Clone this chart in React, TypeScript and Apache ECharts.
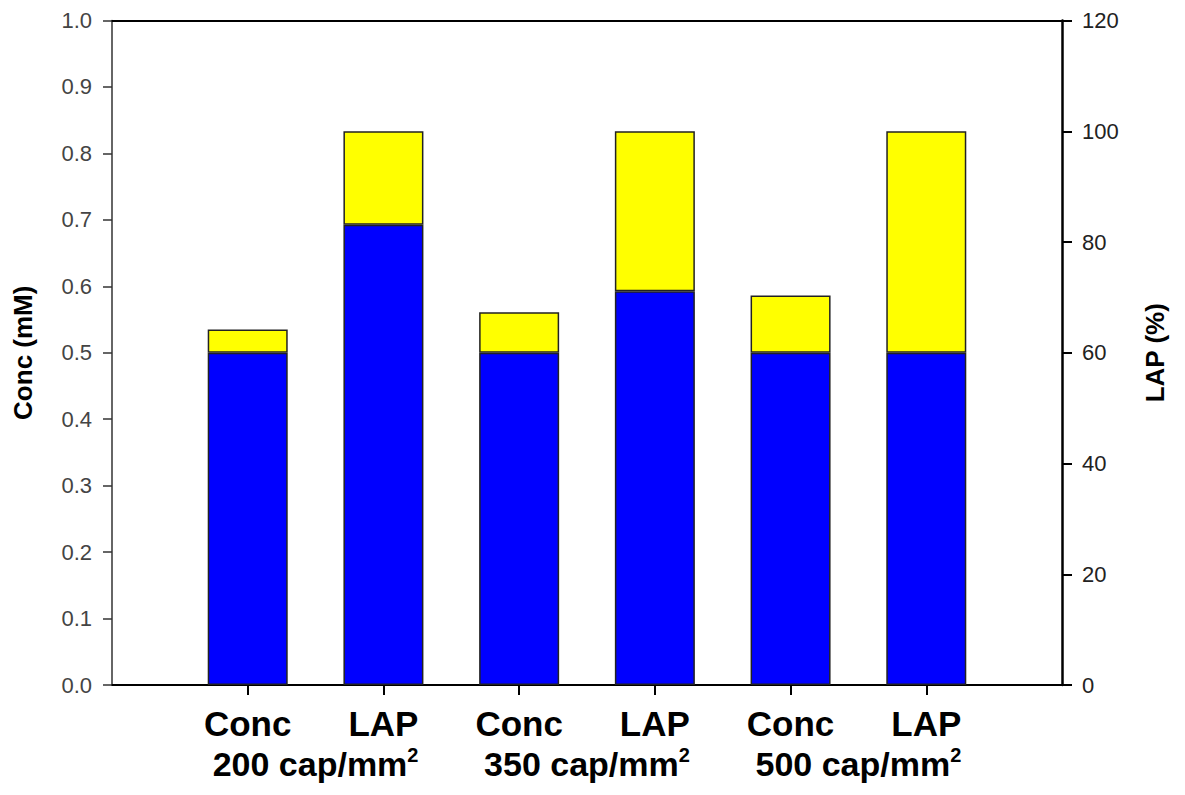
import React, { useEffect, useRef } from "react";
import * as echarts from "echarts";

// Category positions on the x axis (0 and 7 are empty padding slots)
const barLabels = ["", "Conc", "LAP", "Conc", "LAP", "Conc", "LAP", ""];
const groupLabels = ["200 cap/mm", "350 cap/mm", "500 cap/mm"];

// Conc bars (left axis, mM)
const concBase = [0.5, 0.5, 0.5];
const concTotal = [0.535, 0.561, 0.586];

// LAP bars (right axis, %)
const lapBase = [83.1, 71.1, 60.0];
const lapTotal = [100, 100, 100];

const concIdx = [1, 3, 5];
const lapIdx = [2, 4, 6];

const FONT = "'Liberation Sans', Arial, Helvetica, sans-serif";

function place(values: number[], idx: number[]): (number | string)[] {
  const out: (number | string)[] = barLabels.map(() => "-");
  idx.forEach((p, i) => {
    out[p] = values[i];
  });
  return out;
}

export default function App() {
  const ref = useRef<HTMLDivElement>(null);
  useEffect(() => {
    if (!ref.current) return;
    const chart = echarts.init(ref.current, undefined, { renderer: "svg" });
    const concExtra = concTotal.map((t, i) => +(t - concBase[i]).toFixed(4));
    const lapExtra = lapTotal.map((t, i) => +(t - lapBase[i]).toFixed(4));
    const barStyleBlue = { color: "#0000ff", borderColor: "#222", borderWidth: 1.5 };
    const barStyleYellow = { color: "#ffff00", borderColor: "#222", borderWidth: 1.5 };
    chart.setOption({
      animation: false,
      backgroundColor: "#ffffff",
      grid: { left: 112, right: 123, top: 20.5, bottom: 110, containLabel: false },
      xAxis: [
        {
          type: "category",
          data: barLabels,
          boundaryGap: false,
          axisLine: { onZero: false, lineStyle: { color: "#000", width: 2 } },
          axisTick: {
            length: 10,
            lineStyle: { color: "#000", width: 2 },
            interval: (i: number) => i > 0 && i < barLabels.length - 1,
          },
          axisLabel: {
            interval: 0,
            margin: 21,
            color: "#000",
            fontFamily: FONT,
            fontWeight: "bold",
            fontSize: 35,
          },
          splitLine: { show: false },
        },
        {
          type: "value",
          position: "bottom",
          min: 0,
          max: barLabels.length - 1,
          interval: 0.5,
          axisLine: { show: false, onZero: false },
          axisTick: { show: false },
          splitLine: { show: false },
          axisLabel: {
            margin: 60,
            showMinLabel: true,
            showMaxLabel: true,
            formatter: (v: number) => {
              const k = Math.round((v - 1.5) / 2);
              if (Math.abs(v - (1.5 + 2 * k)) < 1e-6 && k >= 0 && k < groupLabels.length) {
                return `{a|${groupLabels[k]}}{s|2}`;
              }
              return "";
            },
            rich: {
              a: { fontFamily: FONT, fontWeight: "bold", fontSize: 34, color: "#000", lineHeight: 38 },
              s: { fontFamily: FONT, fontWeight: "bold", fontSize: 20, color: "#000", verticalAlign: "top", lineHeight: 38, padding: [0, 0, 16, 0] },
            },
          },
        },
        {
          type: "value",
          position: "top",
          min: 0,
          max: 7,
          axisLine: { show: true, onZero: false, lineStyle: { color: "#000", width: 2 } },
          axisTick: { show: false },
          axisLabel: { show: false },
          splitLine: { show: false },
        },
      ],
      yAxis: [
        {
          type: "value",
          min: 0,
          max: 1,
          interval: 0.1,
          name: "Conc (mM)",
          nameLocation: "middle",
          nameRotate: 90,
          nameGap: 76,
          nameTextStyle: { fontFamily: FONT, fontWeight: "bold", fontSize: 26, color: "#000" },
          axisLine: { show: true, onZero: false, lineStyle: { color: "#333", width: 1.5 } },
          axisTick: { show: true, inside: false, length: 9, lineStyle: { color: "#333", width: 1.5 } },
          axisLabel: {
            margin: 20,
            color: "#444",
            fontFamily: FONT,
            fontSize: 22,
            formatter: (v: number) => v.toFixed(1),
          },
          splitLine: { show: false },
        },
        {
          type: "value",
          position: "right",
          min: 0,
          max: 120,
          interval: 20,
          name: "LAP (%)",
          nameLocation: "middle",
          nameRotate: 90,
          nameGap: 80,
          nameTextStyle: { fontFamily: FONT, fontWeight: "bold", fontSize: 26, color: "#000" },
          axisLine: { show: true, onZero: false, lineStyle: { color: "#000", width: 2.5 } },
          axisTick: { show: true, inside: false, length: 10, lineStyle: { color: "#000", width: 2 } },
          axisLabel: { margin: 20, color: "#222", fontFamily: FONT, fontSize: 22 },
          splitLine: { show: false },
        },
      ],
      series: [
        {
          name: "Conc base",
          type: "bar",
          xAxisIndex: 0,
          yAxisIndex: 0,
          stack: "conc",
          barWidth: 80,
          barGap: "-100%",
          itemStyle: barStyleBlue,
          data: place(concBase, concIdx),
        },
        {
          name: "Conc extra",
          type: "bar",
          xAxisIndex: 0,
          yAxisIndex: 0,
          stack: "conc",
          barWidth: 80,
          barGap: "-100%",
          itemStyle: barStyleYellow,
          data: place(concExtra, concIdx),
        },
        {
          name: "LAP base",
          type: "bar",
          xAxisIndex: 0,
          yAxisIndex: 1,
          stack: "lap",
          barWidth: 80,
          barGap: "-100%",
          itemStyle: barStyleBlue,
          data: place(lapBase, lapIdx),
        },
        {
          name: "LAP extra",
          type: "bar",
          xAxisIndex: 0,
          yAxisIndex: 1,
          stack: "lap",
          barWidth: 80,
          barGap: "-100%",
          itemStyle: barStyleYellow,
          data: place(lapExtra, lapIdx),
        },
      ],
    });
    return () => chart.dispose();
  }, []);
  return (
    <div
      ref={ref}
      style={{ position: "fixed", left: 0, top: 0, width: 1185, height: 795, background: "#fff" }}
    />
  );
}
